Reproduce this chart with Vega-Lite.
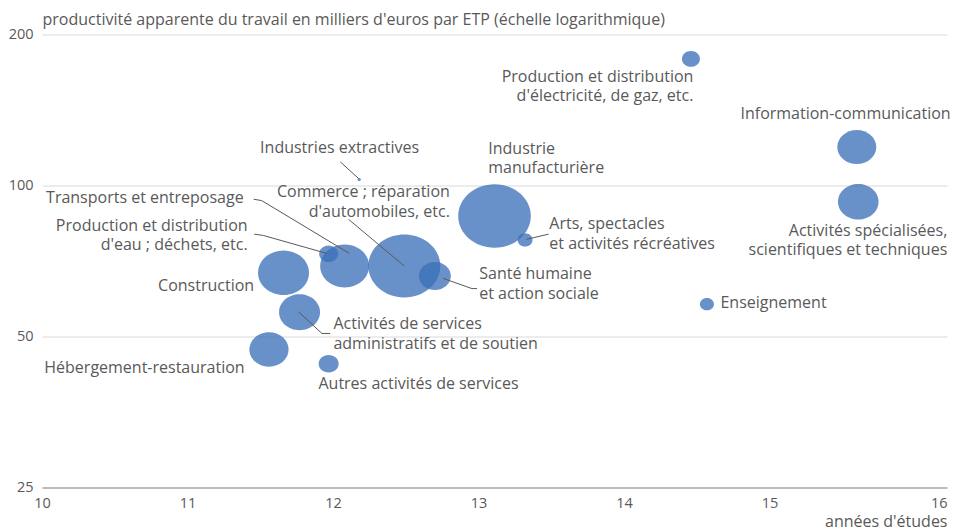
{
  "$schema": "https://vega.github.io/schema/vega-lite/v6.json",
  "width": 905,
  "height": 453,
  "autosize": {"type": "none"},
  "padding": {"left": 42, "top": 34.5, "right": 12, "bottom": 42.5},
  "background": "white",
  "config": {
    "font": "Open Sans",
    "view": {"stroke": null}
  },
  "datasets": {
    "bulles": [
      {"secteur": "Production et distribution d'électricité, de gaz, etc.", "annees": 14.46, "productivite": 178.8, "poids": 8.1},
      {"secteur": "Information-communication", "annees": 15.60, "productivite": 119.3, "poids": 38},
      {"secteur": "Activités spécialisées, scientifiques et techniques", "annees": 15.61, "productivite": 92.8, "poids": 41.2},
      {"secteur": "Industries extractives", "annees": 12.18, "productivite": 102.8, "poids": 0.3},
      {"secteur": "Industrie manufacturière", "annees": 13.11, "productivite": 86.9, "poids": 131.8},
      {"secteur": "Arts, spectacles et activités récréatives", "annees": 13.32, "productivite": 77.9, "poids": 5.6},
      {"secteur": "Commerce ; réparation d'automobiles, etc.", "annees": 12.49, "productivite": 69.1, "poids": 129.6},
      {"secteur": "Santé humaine et action sociale", "annees": 12.70, "productivite": 66.0, "poids": 25.6},
      {"secteur": "Transports et entreposage", "annees": 12.08, "productivite": 69.1, "poids": 60},
      {"secteur": "Production et distribution d'eau ; déchets, etc.", "annees": 11.97, "productivite": 73.1, "poids": 9},
      {"secteur": "Construction", "annees": 11.66, "productivite": 67.0, "poids": 65},
      {"secteur": "Activités de services administratifs et de soutien", "annees": 11.77, "productivite": 55.9, "poids": 42},
      {"secteur": "Hébergement-restauration", "annees": 11.56, "productivite": 47.1, "poids": 38.5},
      {"secteur": "Autres activités de services", "annees": 11.97, "productivite": 44.1, "poids": 10},
      {"secteur": "Enseignement", "annees": 14.57, "productivite": 58.0, "poids": 4.9}
    ],
    "etiquettes": [
      {"lignes": ["Production et distribution\u00a0", "d'électricité, de gaz, etc."], "lx": 14.477, "ly": 171.0, "ancrage": "droite"},
      {"lignes": ["Information-communication"], "lx": 16.245, "ly": 144.0, "ancrage": "droite"},
      {"lignes": ["Industrie", "manufacturière"], "lx": 13.067, "ly": 122.9, "ancrage": "gauche"},
      {"lignes": ["Industries extractives"], "lx": 11.499, "ly": 123.5, "ancrage": "gauche"},
      {"lignes": ["Transports et entreposage"], "lx": 11.386, "ly": 98.1, "ancrage": "droite"},
      {"lignes": ["Production et distribution", "d'eau ; déchets, etc."], "lx": 11.413, "ly": 86.2, "ancrage": "droite"},
      {"lignes": ["Construction"], "lx": 11.458, "ly": 65.3, "ancrage": "droite"},
      {"lignes": ["Hébergement-restauration"], "lx": 11.393, "ly": 44.8, "ancrage": "droite"},
      {"lignes": ["Commerce ; réparation", "d'automobiles, etc."], "lx": 12.803, "ly": 100.5, "ancrage": "droite"},
      {"lignes": ["Arts, spectacles", "et activités récréatives"], "lx": 13.487, "ly": 86.8, "ancrage": "gauche"},
      {"lignes": ["Santé humaine", "et action sociale"], "lx": 13.005, "ly": 69.1, "ancrage": "gauche"},
      {"lignes": ["Enseignement"], "lx": 14.663, "ly": 60.6, "ancrage": "gauche"},
      {"lignes": ["Activités spécialisées,", "scientifiques et techniques"], "lx": 16.222, "ly": 84.2, "ancrage": "droite"},
      {"lignes": ["Activités de services", "administratifs et de soutien"], "lx": 12.003, "ly": 54.9, "ancrage": "gauche"},
      {"lignes": ["Autres activités de services"], "lx": 11.90, "ly": 41.7, "ancrage": "gauche"}
    ],
    "traits": [
      {"xa": 11.455, "ya": 93.9, "xb": 11.510, "yb": 93.3},
      {"xa": 11.510, "ya": 93.3, "xb": 12.113, "yb": 73.2},
      {"xa": 11.458, "ya": 80.0, "xb": 11.522, "yb": 79.5},
      {"xa": 11.522, "ya": 79.5, "xb": 11.958, "yb": 73.2},
      {"xa": 12.107, "ya": 85.6, "xb": 12.490, "yb": 69.1},
      {"xa": 12.050, "ya": 111.5, "xb": 12.175, "yb": 103.3},
      {"xa": 12.756, "ya": 65.3, "xb": 12.955, "yb": 62.3},
      {"xa": 12.955, "ya": 62.3, "xb": 12.990, "yb": 62.3},
      {"xa": 11.763, "ya": 56.0, "xb": 11.924, "yb": 50.7},
      {"xa": 11.924, "ya": 50.7, "xb": 11.981, "yb": 50.7},
      {"xa": 13.329, "ya": 78.1, "xb": 13.482, "yb": 80.0}
    ]
  },
  "layer": [
    {
      "data": {"name": "bulles"},
      "mark": {
        "type": "point",
        "filled": true,
        "shape": "M-1,0A1,0.875,0,1,1,1,0A1,0.875,0,1,1,-1,0Z",
        "color": "#3a6fb8",
        "opacity": 0.76,
        "strokeWidth": 0
      },
      "encoding": {
        "x": {
          "field": "annees",
          "type": "quantitative",
          "scale": {"domain": [10, 16.22], "nice": false, "zero": false},
          "axis": {
            "values": [10, 11, 12, 13, 14, 15, 16.22],
            "labelExpr": "datum.value > 16 ? '16' : format(datum.value, 'd')",
            "labelAlign": {"condition": {"test": "datum.value > 16", "value": "right"}, "value": "center"},
            "grid": false,
            "ticks": false,
            "tickSize": 0,
            "labelPadding": 9,
            "domainColor": "#8c8c8c",
            "domainWidth": 1.2,
            "labelColor": "#595959",
            "labelFontSize": 14.5,
            "labelFont": "Open Sans",
            "title": "années d'études",
            "titleAlign": "right",
            "titleAnchor": "end",
            "titleX": 905,
            "titleY": 38.5,
            "titleBaseline": "alphabetic",
            "titleFontWeight": "normal",
            "titleFontSize": 16,
            "titleFont": "Open Sans",
            "titleColor": "#595959"
          }
        },
        "y": {
          "field": "productivite",
          "type": "quantitative",
          "scale": {"type": "log", "domain": [25, 200], "nice": false},
          "axis": {
            "values": [25, 50, 100, 200],
            "format": "d",
            "grid": true,
            "gridColor": "#d9d9d9",
            "domain": false,
            "ticks": false,
            "tickSize": 0,
            "labelPadding": 9,
            "labelColor": "#595959",
            "labelFontSize": 14.5,
            "labelFont": "Open Sans",
            "title": "productivité apparente du travail en milliers d'euros par ETP (échelle logarithmique)",
            "titleAngle": 0,
            "titleAlign": "left",
            "titleX": 0,
            "titleY": -10,
            "titleBaseline": "alphabetic",
            "titleFontWeight": "normal",
            "titleFontSize": 16,
            "titleFont": "Open Sans",
            "titleColor": "#595959"
          }
        },
        "size": {
          "field": "poids",
          "type": "quantitative",
          "scale": {"type": "linear", "domain": [0, 100], "range": [0, 4000]},
          "legend": null
        }
      }
    },
    {
      "data": {"name": "traits"},
      "mark": {"type": "rule", "color": "#595959", "strokeWidth": 1},
      "encoding": {
        "x": {"field": "xa", "type": "quantitative"},
        "y": {"field": "ya", "type": "quantitative"},
        "x2": {"field": "xb"},
        "y2": {"field": "yb"}
      }
    },
    {
      "data": {"name": "etiquettes"},
      "transform": [{"filter": "datum.ancrage === 'droite'"}],
      "mark": {"type": "text", "align": "right", "baseline": "top", "lineHeight": 19.5, "fontSize": 16, "font": "Open Sans", "color": "#595959"},
      "encoding": {
        "x": {"field": "lx", "type": "quantitative"},
        "y": {"field": "ly", "type": "quantitative"},
        "text": {"field": "lignes", "type": "nominal"}
      }
    },
    {
      "data": {"name": "etiquettes"},
      "transform": [{"filter": "datum.ancrage === 'gauche'"}],
      "mark": {"type": "text", "align": "left", "baseline": "top", "lineHeight": 19.5, "fontSize": 16, "font": "Open Sans", "color": "#595959"},
      "encoding": {
        "x": {"field": "lx", "type": "quantitative"},
        "y": {"field": "ly", "type": "quantitative"},
        "text": {"field": "lignes", "type": "nominal"}
      }
    }
  ]
}
